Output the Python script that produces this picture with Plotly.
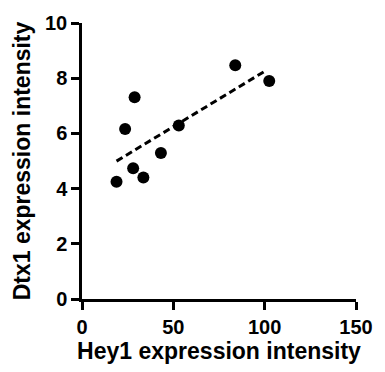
import numpy as np
import plotly.graph_objects as go

hey1 = [18.9, 23.6, 28.8, 28.0, 33.6, 43.2, 53.0, 83.9, 102.5]
dtx1 = [4.25, 6.16, 7.31, 4.74, 4.40, 5.29, 6.29, 8.47, 7.90]
x_ticks = [0, 50, 100, 150]
y_ticks = [0, 2, 4, 6, 8, 10]

slope, intercept = np.polyfit(hey1, dtx1, 1)
fit_x = [min(hey1), max(hey1) - 1.5]
fit_y = [slope * v + intercept for v in fit_x]

fig = go.Figure()
fig.add_trace(go.Scatter(x=fit_x, y=fit_y, mode="lines",
                         line=dict(color="black", width=3, dash="7px,4px"),
                         hoverinfo="skip", showlegend=False))
fig.add_trace(go.Scatter(x=hey1, y=dtx1, mode="markers",
                         marker=dict(color="black", size=12, symbol="circle",
                                     line=dict(width=0)),
                         showlegend=False, cliponaxis=False))

font_fam = "Arial, Liberation Sans, sans-serif"
axis_common = dict(showgrid=False, zeroline=False, showline=True,
                   linecolor="black", linewidth=2.5, ticks="outside",
                   ticklen=8, tickwidth=2.5, tickcolor="black",
                   tickfont=dict(family=font_fam, size=20, color="black", weight="bold"))

fig.update_layout(
    width=385, height=372,
    margin=dict(l=82, r=23, t=22, b=70),
    paper_bgcolor="white", plot_bgcolor="white",
    xaxis=dict(range=[0, 150], tickvals=x_ticks,
               title=dict(text="Hey1 expression intensity", standoff=6,
                          font=dict(family=font_fam, size=23, color="black", weight="bold")),
               **axis_common),
    yaxis=dict(range=[0, 10], tickvals=y_ticks,
               title=dict(text="Dtx1 expression intensity", standoff=8,
                          font=dict(family=font_fam, size=23, color="black", weight="bold")),
               **axis_common),
)

fig.write_html("out.html")
